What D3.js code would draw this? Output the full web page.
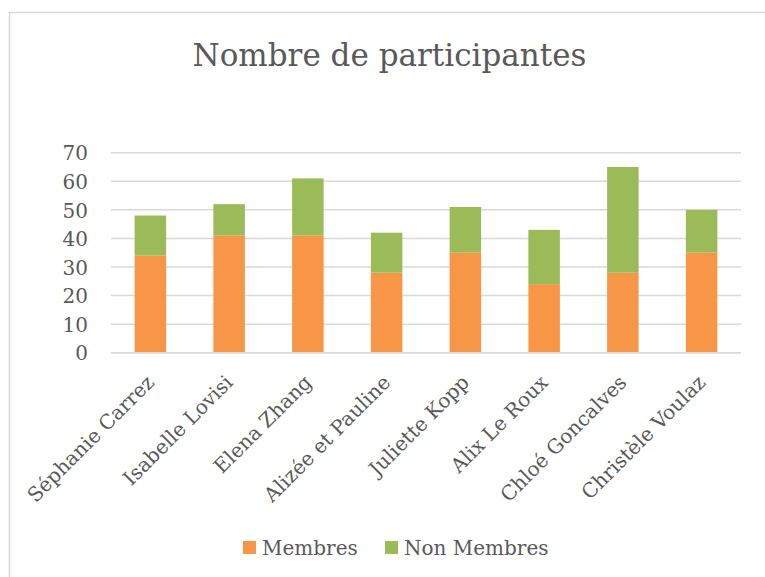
<!DOCTYPE html>
<html>
<head>
<meta charset="utf-8">
<script src="https://cdn.jsdelivr.net/npm/d3@7"></script>
<style>
  html, body { margin: 0; padding: 0; background: #fff; }
  svg { display: block; }
  text { font-family: "DejaVu Serif", serif; fill: #595959; }
</style>
</head>
<body>
<svg id="chart" width="765" height="577"></svg>
<script>
const categories = ["Séphanie Carrez", "Isabelle Lovisi", "Elena Zhang", "Alizée et Pauline",
                    "Juliette Kopp", "Alix Le Roux", "Chloé Goncalves", "Christèle Voulaz"];
const membres = [34, 41, 41, 28, 35, 24, 28, 35];
const nonMembres = [14, 11, 20, 14, 16, 19, 37, 15];
const seriesNames = ["Membres", "Non Membres"];
const seriesColors = ["#F79646", "#9BBB59"];
const yTicks = [0, 10, 20, 30, 40, 50, 60, 70];
const title = "Nombre de participantes";

const svg = d3.select("#chart");

// outer chart border
svg.append("rect")
  .attr("x", 9.5).attr("y", 12.5)
  .attr("width", 800).attr("height", 600)
  .attr("fill", "none").attr("stroke", "#d9d9d9").attr("stroke-width", 1.5);

const plot = { left: 111, right: 741, top: 152.7, bottom: 352.7 };

const x = d3.scaleBand()
  .domain(categories)
  .range([plot.left, plot.right])
  .paddingInner(0.6)
  .paddingOuter(0.3);

const y = d3.scaleLinear()
  .domain([0, 70])
  .range([plot.bottom, plot.top]);

// gridlines
svg.append("g")
  .selectAll("line")
  .data(yTicks)
  .join("line")
  .attr("x1", plot.left).attr("x2", plot.right)
  .attr("y1", d => y(d)).attr("y2", d => y(d))
  .attr("stroke", "#d9d9d9").attr("stroke-width", 1.5);

// y axis labels
const yAxis = d3.axisLeft(y).tickValues(yTicks).tickSize(0).tickPadding(0);
const gy = svg.append("g").attr("transform", `translate(88,0)`).call(yAxis);
gy.select(".domain").remove();
gy.selectAll("text")
  .attr("font-family", "DejaVu Serif")
  .attr("font-size", 20)
  .attr("fill", "#595959")
  .attr("dy", "0.36em");

// stacked data
const rows = categories.map((c, i) => ({ cat: c, Membres: membres[i], "Non Membres": nonMembres[i] }));
const stack = d3.stack().keys(seriesNames)(rows);

svg.append("g")
  .selectAll("g")
  .data(stack)
  .join("g")
  .attr("fill", (d, i) => seriesColors[i])
  .selectAll("rect")
  .data(d => d)
  .join("rect")
  .attr("x", d => x(d.data.cat))
  .attr("width", x.bandwidth())
  .attr("y", d => y(d[1]))
  .attr("height", d => y(d[0]) - y(d[1]));

// baseline axis line
svg.append("line")
  .attr("x1", plot.left).attr("x2", plot.right)
  .attr("y1", y(0)).attr("y2", y(0))
  .attr("stroke", "#d9d9d9").attr("stroke-width", 1.5);

// category labels rotated -45
const xAxis = d3.axisBottom(x).tickSize(0).tickPadding(0);
const gx = svg.append("g").attr("transform", `translate(0,${y(0)})`).call(xAxis);
gx.select(".domain").remove();
gx.selectAll(".tick text")
  .attr("font-family", "DejaVu Serif")
  .attr("font-size", 20)
  .attr("fill", "#595959")
  .attr("text-anchor", "end")
  .attr("y", 0).attr("dy", 0)
  .attr("transform", "translate(5,31) rotate(-45)");

// title
svg.append("text")
  .attr("x", 389.5).attr("y", 66)
  .attr("text-anchor", "middle")
  .attr("font-size", 31)
  .text(title);

// legend
const legendX = [243, 385];
const leg = svg.append("g").selectAll("g")
  .data(seriesNames)
  .join("g")
  .attr("transform", (d, i) => `translate(${legendX[i]},541)`);
leg.append("rect")
  .attr("width", 13).attr("height", 13)
  .attr("fill", (d, i) => seriesColors[i]);
leg.append("text")
  .attr("x", 19).attr("y", 14)
  .attr("font-size", 20)
  .text(d => d);
</script>
</body>
</html>
